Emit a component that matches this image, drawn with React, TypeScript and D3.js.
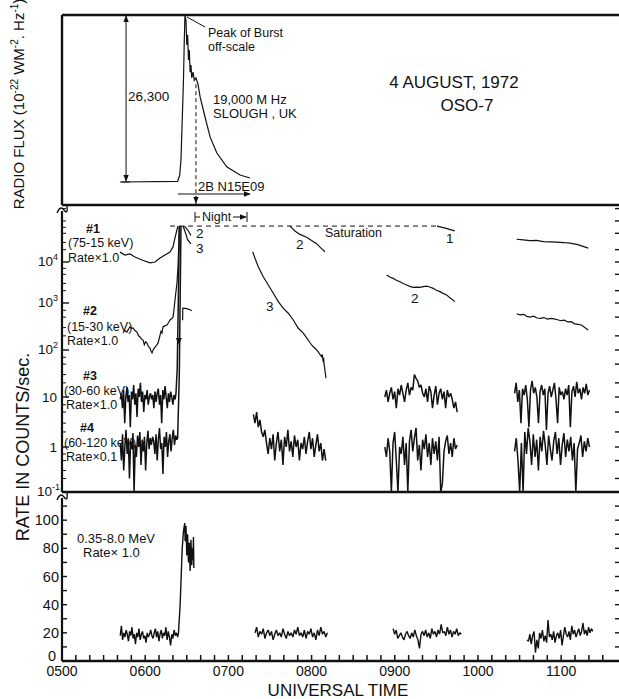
import React from 'react';
import * as d3 from 'd3';

// Universal time axis (decimal hours)
const hourValues = [5, 6, 7, 8, 9, 10, 11];
const hourLabels = ['0500', '0600', '0700', '0800', '0900', '1000', '1100'];

// 19,000 MHz radio flux above background (10^-22 W m^-2 Hz^-1), Slough
const radioTimes = [5.72, 6.39, 6.415, 6.43, 6.445, 6.46, 6.47, 6.478, 6.49, 6.5, 6.51, 6.52, 6.53, 6.54, 6.55, 6.56, 6.575, 6.59, 6.61, 6.635, 6.66, 6.72, 6.78, 6.86, 6.98, 7.14, 7.26];
const radioFlux = [0, 100, 1100, 3500, 9700, 16000, 22300, 26300, 25500, 21600, 23200, 19200, 20800, 17300, 18400, 16400, 17300, 16000, 16400, 15400, 13400, 10200, 7100, 4600, 2400, 1100, 630];

const SATURATION = 75000;
const rateDecades = [0.1, 1, 10, 100, 1000, 10000];

// channel 1 (7.5-15 keV)
const ch1Orbit1Times = [5.697, 5.757, 5.817, 5.877, 5.962, 6.058, 6.118, 6.178, 6.238, 6.298, 6.334, 6.358, 6.382, 6.394];
const ch1Orbit1Rates = [17400, 14800, 15700, 13200, 11200, 9500, 10000, 12500, 14800, 17400, 23300, 38600, 61000, 75000];
const ch1Orbit3Times = [9.507, 9.62, 9.72];
const ch1Orbit3Rates = [75000, 66000, 57500];
const ch1Orbit4Times = [10.465, 10.545, 10.625, 10.705, 10.785, 10.865, 10.946, 11.026, 11.106, 11.2, 11.325];
const ch1Orbit4Rates = [35800, 34500, 33000, 33500, 31500, 31000, 30400, 29800, 28700, 26500, 21700];

// channel 2 (15-30 keV)
const ch2Orbit1Times = [5.733, 5.757, 5.781, 5.8, 5.817, 5.835, 5.853, 5.877, 5.901, 5.92, 5.938, 5.956, 5.974, 5.99, 6.005, 6.022, 6.04, 6.058, 6.07, 6.082, 6.1, 6.118, 6.136, 6.154, 6.17, 6.19, 6.202, 6.214, 6.24, 6.262, 6.28, 6.298, 6.316, 6.334, 6.346, 6.358, 6.382, 6.394, 6.406, 6.412];
const ch2Orbit1Rates = [230, 260, 240, 280, 310, 290, 295, 260, 240, 200, 190, 170, 163, 130, 150, 140, 118, 110, 95, 87, 105, 115, 125, 140, 180, 250, 230, 310, 330, 340, 380, 435, 460, 500, 710, 1180, 3070, 7550, 34500, 75000];
const ch2HookTimes = [6.45, 6.452, 6.5, 6.54, 6.56];
const ch2HookRates = [430, 780, 760, 720, 680];
const ch2DecayTimes = [6.47, 6.49, 6.52, 6.55];
const ch2DecayRates = [75000, 68000, 57000, 44000];
const ch2Orbit2Times = [7.74, 7.8, 7.86, 7.94, 8.0, 8.06, 8.11, 8.16];
const ch2Orbit2Rates = [75000, 57000, 47000, 40000, 33500, 28000, 22000, 17800];
const ch2Orbit3Times = [8.903, 8.94, 8.982, 9.02, 9.063, 9.1, 9.143, 9.18, 9.222, 9.26, 9.303, 9.34, 9.383, 9.42, 9.463, 9.5, 9.543, 9.58, 9.624, 9.67, 9.724];
const ch2Orbit3Rates = [4820, 4300, 3980, 3600, 3300, 3000, 2750, 2550, 2410, 2450, 2410, 2500, 2590, 2450, 2280, 2050, 1890, 1720, 1570, 1300, 1080];
const ch2Orbit4Span = [10.465, 11.325];
const ch2Orbit4Rates = [590, 560, 575, 520, 500, 525, 480, 470, 490, 455, 470, 460, 440, 420, 430, 395, 400, 360, 350, 340, 300, 268];

// channel 3 (30-60 keV)
const ch3Orbit1Span = [5.7, 6.36];
const ch3Orbit1Rates = [9, 12, 6, 14, 3, 10, 16, 8, 11, 2.5, 13, 9, 18, 7, 12, 4, 15, 10, 20, 8, 13, 5, 11, 9, 14, 7, 10, 12, 9, 11, 6, 13, 8, 12, 15, 7, 11, 3, 14, 9, 17, 10, 6, 12, 8, 13, 10, 7, 11, 9];
const ch3RiseTimes = [6.37, 6.385, 6.4, 6.41];
const ch3RiseRates = [12, 40, 2000, 75000];
const ch3DecayTimes = [6.455, 6.47, 6.49, 6.51, 6.55];
const ch3DecayRates = [75000, 62000, 47000, 35000, 27500];
const ch3Orbit2Times = [7.292, 7.32, 7.359, 7.419, 7.48, 7.54, 7.6, 7.66, 7.72, 7.78, 7.84, 7.9, 7.96, 8.0, 8.061, 8.121, 8.13, 8.14, 8.145, 8.149, 8.161, 8.173];
const ch3Orbit2Rates = [17800, 12300, 7670, 4370, 2750, 1730, 1080, 770, 605, 435, 290, 228, 163, 128, 100, 72, 80, 55, 68, 52, 37, 25];
const ch3Orbit3Span = [8.88, 9.75];
const ch3Orbit3Rates = [10, 14, 8, 12, 16, 9, 13, 6, 15, 11, 18, 12, 8, 14, 20, 11, 16, 14, 30, 25, 22, 16, 18, 12, 10, 15, 8, 17, 13, 6, 11, 17, 7, 12, 15, 9, 13, 6, 14, 10, 12, 9, 6, 8, 5];
const ch3Orbit4Span = [10.44, 11.34];
const ch3Orbit4Rates = [12, 20, 8, 14, 3, 15, 11, 18, 9, 2.5, 14, 22, 12, 16, 10, 3, 13, 18, 11, 15, 2.2, 12, 17, 10, 14, 20, 9, 3, 16, 11, 13, 9, 15, 11, 18, 2.5, 13, 17, 10, 21, 12, 15, 9, 16, 12, 19, 11, 14];

// channel 4 (60-120 keV), rate x 0.1
const ch4Orbit1Span = [5.7, 6.38];
const ch4Orbit1Rates = [1.2, 0.5, 1.8, 0.3, 1, 2.2, 0.7, 1.5, 0.2, 1.3, 0.9, 1.9, 0.1, 1.1, 0.6, 1.7, 1, 2, 0.4, 1.4, 0.8, 1.6, 0.3, 1.2, 2.1, 0.9, 1.5, 1.1, 1.6, 1.3, 0.7, 1.8, 0.5, 1.4, 2.4, 0.9, 1.2, 0.25, 1.6, 1, 2, 0.6, 1.3, 1.8, 0.8, 1.5, 2.2, 1.1, 1.7, 1.4];
const ch4RiseTimes = [6.39, 6.41, 6.43];
const ch4RiseRates = [1.5, 30, 75000];
const ch4Orbit2Span = [7.3, 8.17];
const ch4Orbit2Rates = [4.5, 3, 5, 2.5, 3.5, 2, 1.6, 2.2, 1.2, 0.7, 1.5, 0.9, 1.8, 0.5, 1.2, 2, 0.8, 1.4, 0.4, 1.6, 1, 2.2, 0.8, 1.3, 0.6, 1.7, 1, 1.4, 0.5, 1.2, 0.9, 1.6, 0.7, 1.3, 2, 0.9, 1.5, 0.6, 1.1, 1.8, 0.8, 1.2, 0.5, 0.9, 0.5];
const ch4Orbit3Span = [8.88, 9.75];
const ch4Orbit3Rates = [1, 0.6, 1.5, 0.8, 0.1, 1.2, 2, 0.5, 0.1, 1, 0.7, 1.6, 0.4, 1.2, 0.1, 1.3, 2.2, 0.8, 1.5, 2.4, 0.5, 1.1, 0.3, 1.4, 0.9, 1.8, 0.6, 1.2, 0.4, 1.5, 0.7, 1.3, 0.5, 1.6, 0.1, 0.15, 0.8, 1.3, 1.7, 0.7, 1.2, 0.6, 1.5, 0.9, 1.1];
const ch4Orbit4Span = [10.44, 11.34];
const ch4Orbit4Rates = [0.8, 1.5, 0.5, 0.1, 1.2, 0.1, 2, 0.7, 2.4, 1.3, 0.4, 1.8, 0.6, 1.4, 0.3, 1.6, 0.8, 2.1, 1.1, 0.4, 1.7, 0.9, 0.5, 1.3, 2, 0.7, 1.5, 0.4, 1.1, 1.9, 0.6, 1.4, 0.8, 1.6, 0.5, 1.2, 0.1, 0.9, 1.2, 1.7, 0.6, 1.3, 0.8, 1.5, 1];

// 0.35-8.0 MeV, rate x 1.0
const mevOrbit1Span = [5.7, 6.39];
const mevOrbit1Rates = [18, 25, 15, 20, 17, 22, 19, 14, 21, 18, 24, 16, 19, 12, 20, 17, 23, 15, 19, 21, 16, 18, 13, 20, 17, 19, 22, 18, 16, 20, 23, 17, 21, 14, 19, 22, 16, 20, 18, 24, 15, 21, 17, 11, 19, 16, 22, 18, 20, 17];
const mevBurstTimes = [6.4, 6.42, 6.445, 6.46, 6.475, 6.48, 6.49, 6.5, 6.51, 6.52, 6.53, 6.54, 6.55, 6.56, 6.57, 6.575, 6.58, 6.585];
const mevBurstRates = [20, 40, 80, 92, 98, 85, 96, 75, 90, 70, 84, 64, 86, 68, 80, 72, 88, 66];
const mevOrbit2Span = [7.32, 8.19];
const mevOrbit2Rates = [20, 24, 17, 21, 19, 23, 16, 20, 22, 18, 21, 15, 19, 22, 18, 20, 17, 23, 19, 16, 21, 18, 20, 17, 22, 19, 24, 18, 20, 17, 22, 16, 21, 19, 23, 17, 20, 15, 22, 18, 24, 19, 21, 17, 20];
const mevOrbit3Span = [8.98, 9.8];
const mevOrbit3Rates = [23, 19, 22, 16, 18, 20, 17, 15, 19, 21, 18, 16, 20, 17, 22, 18, 15, 9, 19, 21, 18, 22, 17, 20, 16, 23, 19, 21, 17, 22, 19, 26, 20, 21, 18, 24, 19, 22, 17, 21, 19, 23, 18, 20, 19];
const mevOrbit4Span = [10.59, 11.38];
const mevOrbit4Rates = [15, 14, 19, 12, 18, 21, 6, 15, 9, 20, 16, 22, 14, 18, 13, 29, 17, 19, 15, 21, 13, 18, 20, 16, 22, 11, 18, 24, 19, 17, 21, 15, 25, 19, 22, 17, 20, 23, 18, 21, 27, 19, 22, 18, 24, 20, 23, 21];
const mevTicks = [0, 20, 40, 60, 80, 100];

type Pt = [number, number];
const zip = (t: number[], v: number[]): Pt[] => t.map((ti, i) => [ti, v[i]]);
const spread = (span: number[], v: number[]): Pt[] =>
  v.map((vi, i) => [span[0] + ((span[1] - span[0]) * i) / (v.length - 1), vi]);

const FONT = '"Liberation Sans", Arial, sans-serif';
const INK = '#111';

export default function App() {
  const W = 619;
  const H = 699;
  const left = 62;

  const x = d3.scaleLinear().domain([5, 11.7]).range([left, 619.4]);
  const yRadio = d3.scaleLinear().domain([0, 26300]).range([182, 15]);
  // the scan's decades are not evenly spaced, so a piecewise log scale
  const yRate = d3.scaleLog()
    .domain([0.1, 1, 10, 100, 1000, 10000, 250000])
    .range([492, 447, 397, 350, 303, 262, 204.6]);
  const yMev = d3.scaleLinear().domain([0, 120]).range([661, 492]);

  const radioLine = d3.line<Pt>().x(d => x(d[0])).y(d => yRadio(d[1]));
  const rateLine = d3.line<Pt>().x(d => x(d[0])).y(d => yRate(Math.max(0.1, Math.min(d[1], SATURATION))));
  const mevLine = d3.line<Pt>().x(d => x(d[0])).y(d => yMev(d[1]));

  const smooth = [
    zip(ch1Orbit1Times, ch1Orbit1Rates),
    zip(ch1Orbit3Times, ch1Orbit3Rates),
    zip(ch1Orbit4Times, ch1Orbit4Rates),
    zip(ch2Orbit1Times, ch2Orbit1Rates),
    zip(ch2HookTimes, ch2HookRates),
    zip(ch2DecayTimes, ch2DecayRates),
    zip(ch2Orbit2Times, ch2Orbit2Rates),
    zip(ch2Orbit3Times, ch2Orbit3Rates),
    spread(ch2Orbit4Span, ch2Orbit4Rates),
    zip(ch3DecayTimes, ch3DecayRates),
    zip(ch3Orbit2Times, ch3Orbit2Rates),
  ];
  const noisy = [
    [...spread(ch3Orbit1Span, ch3Orbit1Rates), ...zip(ch3RiseTimes, ch3RiseRates)],
    spread(ch3Orbit3Span, ch3Orbit3Rates),
    spread(ch3Orbit4Span, ch3Orbit4Rates),
    [...spread(ch4Orbit1Span, ch4Orbit1Rates), ...zip(ch4RiseTimes, ch4RiseRates)],
    spread(ch4Orbit2Span, ch4Orbit2Rates),
    spread(ch4Orbit3Span, ch4Orbit3Rates),
    spread(ch4Orbit4Span, ch4Orbit4Rates),
  ];
  const mev = [
    [...spread(mevOrbit1Span, mevOrbit1Rates), ...zip(mevBurstTimes, mevBurstRates)],
    spread(mevOrbit2Span, mevOrbit2Rates),
    spread(mevOrbit3Span, mevOrbit3Rates),
    spread(mevOrbit4Span, mevOrbit4Rates),
  ];

  const minuteTicks = d3.range(0, 40).map(i => 5 + i / 6).filter(t => x(t) < W - 1);
  const leftMinor = rateDecades.slice(0, -1).flatMap(d => [2, 3, 5, 7].map(m => d * m));
  leftMinor.push(20000, 30000, 50000, 70000, 100000, 200000);
  const rightTicks = [...rateDecades, 20000, 50000, 100000, 200000].concat(
    rateDecades.slice(0, -1).flatMap(d => [2, 5].map(m => d * m))
  );
  const satY = yRate(SATURATION);

  const supLabel = (base: string, exp?: string) => (
    <>
      {base}
      {exp && <tspan dy={-6} fontSize={9}>{exp}</tspan>}
    </>
  );

  return (
    <svg width={W} height={H} style={{ position: 'absolute', left: 0, top: 0, background: '#fff' }}
      fontFamily={FONT} fill={INK}>
      <defs>
        <marker id="ah" viewBox="0 0 10 10" refX="9" refY="5" markerWidth="7" markerHeight="7" orient="auto-start-reverse">
          <path d="M0,1 L10,5 L0,9 z" fill={INK} />
        </marker>
      </defs>

      {/* ---------- frames ---------- */}
      <g stroke={INK} fill="none">
        <line x1={left} x2={W} y1={15} y2={15} strokeWidth={2.4} />
        <line x1={left} x2={left} y1={15} y2={205} strokeWidth={2.4} />
        <line x1={left} x2={W} y1={205} y2={205} strokeWidth={2.4} />
        <line x1={left} x2={left} y1={211} y2={492} strokeWidth={2.2} />
        <line x1={left} x2={W} y1={492} y2={492} strokeWidth={2.4} />
        <line x1={left} x2={left} y1={498} y2={661} strokeWidth={2.2} />
        <line x1={left} x2={W} y1={661} y2={661} strokeWidth={2.4} />
        {/* axis breaks */}
        <path d="M57,213 Q60,205 64,210 T67,206" strokeWidth={1.4} />
        <path d="M57,500 Q60,492 64,497 T67,493" strokeWidth={1.4} />
      </g>

      {/* ---------- radio panel ---------- */}
      <path d={radioLine(zip(radioTimes, radioFlux)) ?? ''} fill="none" stroke={INK} strokeWidth={1.2} />
      <g stroke={INK} fill="none" strokeWidth={1}>
        <line x1={x(5.77)} x2={x(5.77)} y1={yRadio(0) - 1} y2={yRadio(26300) + 1}
          markerStart="url(#ah)" markerEnd="url(#ah)" />
        <line x1={x(5.72) - 2} x2={x(5.72) + 8} y1={yRadio(0)} y2={yRadio(0)} />
        <line x1={x(6.61)} x2={x(6.61)} y1={yRadio(15400)} y2={205} strokeDasharray="4 3" />
        <line x1={x(6.61)} x2={x(6.61)} y1={196} y2={203} markerEnd="url(#ah)" />
        <line x1={x(6.394)} x2={x(7.26)} y1={194} y2={194} markerEnd="url(#ah)" />
        <line x1={205} y1={27} x2={187} y2={17} />
      </g>
      <text x={128} y={101} fontSize={13.5}>26,300</text>
      <text x={208} y={37} fontSize={12.5}>Peak of Burst</text>
      <text x={208} y={51} fontSize={12.5}>off-scale</text>
      <text x={213} y={104} fontSize={13}>19,000 M Hz</text>
      <text x={213} y={118} fontSize={13}>SLOUGH , UK</text>
      <text x={198} y={191} fontSize={13}>2B N15E09</text>
      <text x={454} y={88} fontSize={17} textAnchor="middle">4 AUGUST, 1972</text>
      <text x={467} y={111} fontSize={17} textAnchor="middle">OSO-7</text>

      {/* ---------- rate panel ---------- */}
      <g stroke={INK} strokeWidth={1}>
        {rateDecades.map(d => (
          <line key={'M' + d} x1={left} x2={left + 7} y1={yRate(d)} y2={yRate(d)} strokeWidth={1.4} />
        ))}
        {leftMinor.map(d => (
          <line key={'m' + d} x1={left} x2={left + 4} y1={yRate(d)} y2={yRate(d)} />
        ))}
        {rightTicks.map(d => (
          <line key={'r' + d} x1={W - 4} x2={W} y1={yRate(d)} y2={yRate(d)} strokeWidth={1.4} />
        ))}
      </g>
      <g fontSize={13.5} textAnchor="end">
        <text x={58} y={yRate(10000) + 4}>{supLabel('10', '4')}</text>
        <text x={58} y={yRate(1000) + 4}>{supLabel('10', '3')}</text>
        <text x={58} y={yRate(100) + 4}>{supLabel('10', '2')}</text>
        <text x={57} y={yRate(10) + 5}>10</text>
        <text x={57} y={yRate(1) + 5}>1</text>
        <text x={60} y={yRate(0.1) + 4}>{supLabel('10', '-1')}</text>
      </g>

      <line x1={x(6.298)} x2={x(9.507)} y1={satY} y2={satY} stroke={INK} strokeWidth={1} strokeDasharray="5 4" />
      <text x={325} y={237} fontSize={12.5}>Saturation</text>

      {smooth.map((s, i) => (
        <path key={'s' + i} d={rateLine(s) ?? ''} fill="none" stroke={INK} strokeWidth={1.2} />
      ))}
      {noisy.map((s, i) => (
        <path key={'n' + i} d={rateLine(s) ?? ''} fill="none" stroke={INK} strokeWidth={1.5} strokeLinejoin="bevel" />
      ))}
      <path d={`M${x(6.405) - 3},${yRate(180)} L${x(6.405) + 3},${yRate(180)} L${x(6.405)},${yRate(130)} z`} fill={INK} />

      {/* curve labels */}
      <g fontSize={13.5}>
        <text x={196} y={238}>2</text>
        <text x={196} y={253}>3</text>
        <text x={296} y={249}>2</text>
        <text x={266} y={311}>3</text>
        <text x={446} y={243}>1</text>
        <text x={411} y={303}>2</text>
      </g>

      {/* Night bracket */}
      <g stroke={INK} strokeWidth={1} fill="none">
        <line x1={x(6.599)} x2={x(6.599)} y1={212} y2={222} />
        <line x1={x(6.599)} x2={x(6.599) + 5} y1={217} y2={217} />
        <line x1={233} x2={x(7.224) - 1} y1={217} y2={217} markerEnd="url(#ah)" />
        <line x1={x(7.224)} x2={x(7.224)} y1={212} y2={222} />
      </g>
      <text x={202} y={221} fontSize={12.5}>Night</text>

      {/* channel annotations */}
      <g fontSize={12.5}>
        <text x={86} y={233} fontWeight="bold">#1</text>
        <text x={68} y={247}>(75-15 keV)</text>
        <text x={68} y={262}>Rate×1.0</text>
        <text x={83} y={315} fontWeight="bold">#2</text>
        <text x={67} y={331}>(15-30 keV)</text>
        <text x={67} y={345}>Rate×1.0</text>
        <text x={83} y={380} fontWeight="bold">#3</text>
        <text x={64} y={395}>(30-60 keV)</text>
        <text x={66} y={409}>Rate×1.0</text>
        <text x={80} y={432} fontWeight="bold">#4</text>
        <text x={64} y={447}>(60-120 keV)</text>
        <text x={66} y={461}>Rate×0.1</text>
      </g>

      {/* ---------- MeV panel ---------- */}
      {mev.map((s, i) => (
        <path key={'e' + i} d={mevLine(s) ?? ''} fill="none" stroke={INK} strokeWidth={1.4} strokeLinejoin="bevel" />
      ))}
      <g stroke={INK} strokeWidth={1}>
        {d3.range(0, 120, 10).map(v => (
          <line key={'l' + v} x1={left} x2={left + 5} y1={yMev(v)} y2={yMev(v)} strokeWidth={1.4} />
        ))}
        {d3.range(10, 120, 10).map(v => (
          <line key={'rr' + v} x1={W - 4} x2={W} y1={yMev(v)} y2={yMev(v)} strokeWidth={1.4} />
        ))}
        {minuteTicks.map(t => (
          <line key={'t' + t} x1={x(t)} x2={x(t)} y1={661} y2={655} strokeWidth={1.5} />
        ))}
      </g>
      <g fontSize={14.5} textAnchor="end">
        {mevTicks.map(v => (
          <text key={v} x={v === 0 ? 56 : 59} y={yMev(v) + (v === 0 ? 0 : 5)}>{v}</text>
        ))}
      </g>
      <text x={77} y={543} fontSize={13}>0.35-8.0 MeV</text>
      <text x={83} y={557} fontSize={13}>Rate× 1.0</text>

      {/* time axis */}
      <g fontSize={14} textAnchor="middle">
        {hourValues.map((h, i) => (
          <text key={h} x={x(h)} y={676}>{hourLabels[i]}</text>
        ))}
      </g>
      <text x={338} y={696} fontSize={17} textAnchor="middle">UNIVERSAL TIME</text>

      {/* axis titles */}
      <text transform="translate(29,447) rotate(-90)" fontSize={18} textAnchor="middle">RATE  IN  COUNTS/sec.</text>
      <text transform="translate(24,104) rotate(-90)" fontSize={15} textAnchor="middle">
        RADIO FLUX (10<tspan dy={-6} fontSize={10}>-22</tspan>
        <tspan dy={6}> WM</tspan><tspan dy={-6} fontSize={10}>-2</tspan>
        <tspan dy={6}>. Hz</tspan><tspan dy={-6} fontSize={10}>-1</tspan>
        <tspan dy={6}>)</tspan>
      </text>
    </svg>
  );
}
